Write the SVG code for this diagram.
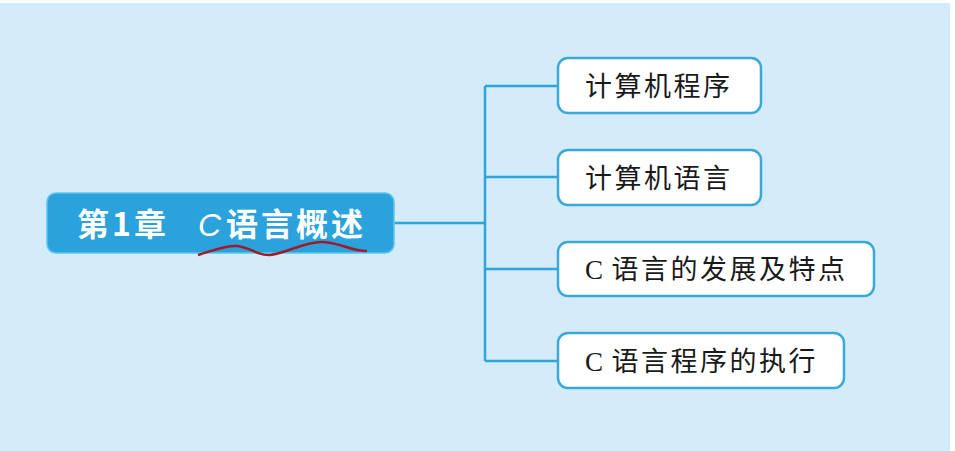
<svg xmlns="http://www.w3.org/2000/svg" width="955" height="451" viewBox="0 0 955 451">
<style>
.conn{fill:none;stroke:#2ea4da;stroke-width:2.5}
.box{fill:#ffffff;stroke:#3aa9d9;stroke-width:2.5}
.lbl{font-family:"Noto Sans CJK SC","Liberation Sans",sans-serif;font-size:27px;fill:#1a1a1a;letter-spacing:2.5px}
.c{font-family:"Liberation Serif",serif}
.root{fill:#2ba2dc;stroke:#5cc4ef;stroke-width:1.5}
.rlbl{font-family:"Noto Sans CJK SC","Liberation Sans",sans-serif;font-size:32px;font-weight:bold;fill:#ffffff;letter-spacing:3px}
</style>
<rect x="0" y="0" width="955" height="451" fill="#ffffff"/>
<rect x="0" y="3" width="950" height="448" fill="#d4ecf9"/>
<g id="connectors">
<path class="conn" d="M394,223 H485 M485,86 V361 M485,86 H558 M485,177 H558 M485,269 H558 M485,361 H558"/>
</g>
<g id="root">
<rect class="root" x="47" y="193" width="347" height="60" rx="9"/>
<text class="rlbl" x="77" y="236">第1章</text>
<text class="rlbl" x="198" y="236" style="font-family:'Liberation Sans',sans-serif;font-weight:normal;font-style:italic;letter-spacing:0">C</text>
<text class="rlbl" x="226" y="236">语言概述</text>
<path d="M198,255 C212,251 225,245 237,246 C250,247 258,256 270,255 C285,254 305,241 323,242 C342,243 350,251 367,251" fill="none" stroke="#9e1c26" stroke-width="2.5"/>
</g>
<g id="n1">
<rect class="box" x="558" y="58" width="203" height="55" rx="10"/>
<text class="lbl" x="585" y="96">计算机程序</text>
</g>
<g id="n2">
<rect class="box" x="558" y="150" width="203" height="55" rx="10"/>
<text class="lbl" x="585" y="188">计算机语言</text>
</g>
<g id="n3">
<rect class="box" x="558" y="242" width="316" height="54" rx="10"/>
<text class="lbl" x="585" y="279"><tspan class="c">C</tspan><tspan dx="6">语言的发展及特点</tspan></text>
</g>
<g id="n4">
<rect class="box" x="558" y="333" width="286" height="55" rx="10"/>
<text class="lbl" x="585" y="371"><tspan class="c">C</tspan><tspan dx="6">语言程序的执行</tspan></text>
</g>
</svg>
